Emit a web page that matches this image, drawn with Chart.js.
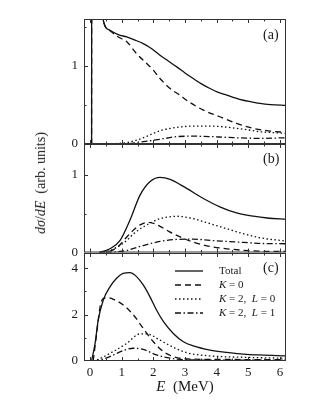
<!DOCTYPE html>
<html>
<head>
<meta charset="utf-8">
<script src="https://cdn.jsdelivr.net/npm/chart.js@4.4.1/dist/chart.umd.min.js"></script>
<style>
  body { margin: 0; background: #fff; }
  #wrap { position: relative; width: 316px; height: 409px; font-family: "Liberation Serif", "DejaVu Serif", serif; color: #1a1a1a; }
  .panel { position: absolute; left: 0; width: 316px; }
  .lbl { position: absolute; font-size: 14px; line-height: 14px; white-space: nowrap; transform: translate(0, -50%); }
  #legend { position: absolute; left: 175px; top: 264px; font-size: 11px; }
  #legend div { height: 13.9px; line-height: 13.9px; white-space: nowrap; }
  #legend svg { vertical-align: middle; margin-right: 16px; }
</style>
</head>
<body>
<div id="wrap">
  <div class="panel" style="top:0;height:152px"><canvas id="chartA"></canvas></div>
  <div class="panel" style="top:138px;height:122px"><canvas id="chartB"></canvas></div>
  <div class="panel" style="top:247px;height:162px"><canvas id="chartC"></canvas></div>

  <div class="lbl" style="left:263px;top:35px">(a)</div>
  <div class="lbl" style="left:263px;top:159px">(b)</div>
  <div class="lbl" style="left:263px;top:268px">(c)</div>

  <div class="lbl" style="left:41px;top:183px;transform:translate(-50%,-50%) rotate(-90deg)"><i>d&sigma;</i>/<i>dE</i>&nbsp; (arb. units)</div>
  <div class="lbl" style="left:185px;top:386px;font-size:15px;line-height:15px;transform:translate(-50%,-50%)"><i>E</i>&nbsp; (MeV)</div>

  <div id="legend">
    <div><svg width="28" height="4"><line x1="0" y1="2" x2="28" y2="2" stroke="#111" stroke-width="1.3"/></svg>Total</div>
    <div><svg width="28" height="4"><line x1="0" y1="2" x2="28" y2="2" stroke="#111" stroke-width="1.3" stroke-dasharray="6 4"/></svg><i>K</i> = 0</div>
    <div><svg width="28" height="4"><line x1="0" y1="2" x2="28" y2="2" stroke="#111" stroke-width="1.3" stroke-dasharray="1.5 2.5"/></svg><i>K</i> = 2,&nbsp; <i>L</i> = 0</div>
    <div><svg width="28" height="4"><line x1="0" y1="2" x2="28" y2="2" stroke="#111" stroke-width="1.3" stroke-dasharray="6 2.5 1.5 2.5"/></svg><i>K</i> = 2,&nbsp; <i>L</i> = 1</div>
  </div>
</div>

<script>
// Panel (a)
const aTotalE = [0.05, 0.055, 0.3, 0.41, 0.63, 0.89, 1.16, 1.42, 1.68, 1.95, 2.21, 2.48, 2.74, 3.0, 3.26, 3.52, 3.79, 4.05, 4.32, 4.58, 4.84, 5.1, 5.37, 5.7, 6.2];
const aTotalY = [0, 5, 2.2, 1.6, 1.455, 1.40, 1.37, 1.33, 1.285, 1.22, 1.136, 1.06, 0.987, 0.91, 0.838, 0.77, 0.71, 0.66, 0.626, 0.59, 0.56, 0.54, 0.52, 0.505, 0.494];
const aK0E = [0.05, 0.055, 0.3, 0.41, 0.63, 0.89, 1.16, 1.47, 1.79, 2.0, 2.21, 2.53, 2.84, 3.05, 3.58, 4.1, 4.63, 5.16, 5.68, 6.2];
const aK0Y = [0, 5, 2.2, 1.6, 1.45, 1.37, 1.31, 1.157, 1.03, 0.945, 0.838, 0.71, 0.626, 0.56, 0.434, 0.349, 0.264, 0.2, 0.166, 0.148];
const aK2L0E = [0.05, 1.0, 1.3, 1.47, 1.75, 2.0, 2.25, 2.53, 2.9, 3.26, 3.79, 4.2, 4.63, 5.0, 5.37, 5.8, 6.2];
const aK2L0Y = [0, 0.01, 0.03, 0.05, 0.09, 0.136, 0.175, 0.2, 0.22, 0.23, 0.23, 0.22, 0.2, 0.18, 0.157, 0.145, 0.136];
const aK2L1E = [0.05, 1.2, 1.68, 2.21, 2.74, 3.26, 3.8, 4.32, 5.37, 6.2];
const aK2L1Y = [0, 0.005, 0.03, 0.06, 0.094, 0.1, 0.095, 0.085, 0.072, 0.08];

// Panel (b)
const bTotalE = [0.3, 0.63, 0.95, 1.26, 1.58, 1.89, 2.21, 2.53, 3.05, 3.58, 4.1, 4.63, 5.16, 5.6, 6.2];
const bTotalY = [0, 0.048, 0.156, 0.416, 0.74, 0.913, 0.97, 0.944, 0.827, 0.697, 0.589, 0.51, 0.468, 0.445, 0.43];
const bK0E = [0.3, 0.63, 0.9, 1.16, 1.4, 1.6, 1.85, 2.05, 2.21, 2.5, 2.74, 3.26, 3.79, 4.32, 5.37, 6.2];
const bK0Y = [0, 0.017, 0.08, 0.2, 0.3, 0.36, 0.39, 0.37, 0.338, 0.27, 0.22, 0.134, 0.078, 0.048, 0.017, 0.013];
const bK2L0E = [0.3, 0.63, 0.9, 1.16, 1.4, 1.68, 1.95, 2.21, 2.5, 2.74, 3.0, 3.26, 3.79, 4.32, 4.84, 5.37, 6.2];
const bK2L0Y = [0, 0.026, 0.08, 0.156, 0.25, 0.33, 0.39, 0.437, 0.46, 0.468, 0.458, 0.437, 0.372, 0.307, 0.242, 0.19, 0.147];
const bK2L1E = [0.5, 0.9, 1.16, 1.68, 2.21, 2.74, 3.26, 3.79, 4.32, 4.84, 5.37, 6.2];
const bK2L1Y = [0, 0.01, 0.026, 0.09, 0.143, 0.169, 0.173, 0.156, 0.143, 0.13, 0.117, 0.113];

// Panel (c)
const cTotalE = [0.05, 0.16, 0.26, 0.42, 0.63, 0.84, 1.05, 1.26, 1.47, 1.68, 1.89, 2.1, 2.32, 2.63, 2.95, 3.26, 3.79, 4.32, 4.84, 5.37, 6.2];
const cTotalY = [0, 0.76, 1.77, 2.63, 3.2, 3.57, 3.78, 3.81, 3.64, 3.28, 2.78, 2.2, 1.7, 1.19, 0.83, 0.65, 0.47, 0.37, 0.3, 0.26, 0.22];
const cK0E = [0.1, 0.21, 0.32, 0.42, 0.58, 0.79, 1.05, 1.37, 1.68, 2.0, 2.32, 2.63, 2.95, 3.79, 6.2];
const cK0Y = [0, 1.19, 2.35, 2.7, 2.73, 2.63, 2.42, 1.99, 1.41, 0.83, 0.4, 0.19, 0.1, 0.07, 0.06];
const cK2L0E = [0.1, 0.21, 0.63, 1.16, 1.58, 1.79, 2.21, 2.63, 3.05, 3.79, 4.84, 6.2];
const cK2L0Y = [0, 0.04, 0.33, 0.76, 1.17, 1.17, 0.9, 0.59, 0.36, 0.22, 0.16, 0.12];
const cK2L1E = [0.1, 0.21, 0.63, 1.05, 1.37, 1.68, 2.1, 2.53, 2.95, 3.79, 6.2];
const cK2L1Y = [0, 0.01, 0.19, 0.45, 0.55, 0.5, 0.26, 0.12, 0.06, 0.04, 0.04];

// Ticks (value, label); empty label = minor tick
const xTicks = [0, 0.5, 1, 1.5, 2, 2.5, 3, 3.5, 4, 4.5, 5, 5.5, 6];
const xTickLabels = ['0', '', '1', '', '2', '', '3', '', '4', '', '5', '', '6'];
const aYTicks = [0, 0.5, 1, 1.5];
const aYLabels = ['0', '', '1', ''];
const bYTicks = [0, 0.5, 1];
const bYLabels = ['0', '', '1'];
const cYTicks = [0, 1, 2, 3, 4];
const cYLabels = ['0', '', '2', '', '4'];

const pts = (xs, ys) => xs.map((x, i) => ({ x: x, y: ys[i] }));

// Ticks pointing into the frame, plus a closed box
const frameTicks = {
    id: 'frameTicks',
    afterDraw(chart) {
        const { ctx, chartArea: a, scales } = chart;
        const x = scales.x, y = scales.y;
        ctx.save();
        ctx.strokeStyle = '#333';
        ctx.lineWidth = 1;
        ctx.strokeRect(a.left + 0.5, a.top + 0.5, a.right - a.left - 1, a.bottom - a.top - 1);
        ctx.beginPath();
        x.ticks.forEach((t, i) => {
            const len = xTickLabels[i] !== '' ? 4 : 2.5;
            const px = Math.round(x.getPixelForValue(t.value)) + 0.5;
            ctx.moveTo(px, a.top); ctx.lineTo(px, a.top + len);
            ctx.moveTo(px, a.bottom); ctx.lineTo(px, a.bottom - len);
        });
        y.ticks.forEach(t => {
            if (t.value <= y.min || t.value >= y.max) return;
            const len = t.label !== '' ? 4 : 2.5;
            const py = Math.round(y.getPixelForValue(t.value)) + 0.5;
            ctx.moveTo(a.left, py); ctx.lineTo(a.left + len, py);
        });
        ctx.stroke();
        ctx.restore();
    }
};

function makeChart(id, series, yMax, yTicks, yLabels, padTop, xHeight, showX) {
    const dashes = [[], [6, 4], [1.5, 2.5], [6, 2.5, 1.5, 2.5]];
    return new Chart(document.getElementById(id), {
        type: 'line',
        data: {
            datasets: series.map((s, i) => ({
                data: s,
                borderColor: '#111',
                borderWidth: 1.3,
                borderDash: dashes[i],
                pointRadius: 0,
                fill: false,
                cubicInterpolationMode: 'monotone'
            }))
        },
        options: {
            responsive: true,
            maintainAspectRatio: false,
            animation: false,
            layout: { padding: { top: padTop, right: 30, left: 0, bottom: 0 } },
            plugins: { legend: { display: false }, tooltip: { enabled: false } },
            scales: {
                x: {
                    type: 'linear',
                    min: -0.19,
                    max: 6.19,
                    grid: { display: false, drawTicks: false },
                    border: { display: false },
                    ticks: {
                        display: showX,
                        autoSkip: false,
                        maxRotation: 0,
                        padding: 4,
                        color: '#1a1a1a',
                        font: { family: 'Liberation Serif', size: 13 },
                        callback: (v, i) => xTickLabels[i]
                    },
                    afterBuildTicks: s => { s.ticks = xTicks.map(v => ({ value: v })); },
                    afterFit: s => {
                        s.height = xHeight;
                        s.paddingLeft = 0; s.paddingRight = 0;
                    }
                },
                y: {
                    min: 0,
                    max: yMax,
                    grid: { display: false, drawTicks: false },
                    border: { display: false },
                    ticks: {
                        autoSkip: false,
                        padding: 6,
                        color: '#1a1a1a',
                        font: { family: 'Liberation Serif', size: 13 },
                        callback: (v, i) => yLabels[i]
                    },
                    afterBuildTicks: s => { s.ticks = yTicks.map(v => ({ value: v })); },
                    afterFit: s => {
                        s.width = 84;
                        s.paddingTop = 0; s.paddingBottom = 0;
                    }
                }
            }
        },
        plugins: [frameTicks]
    });
}

makeChart('chartA',
    [pts(aTotalE, aTotalY), pts(aK0E, aK0Y), pts(aK2L0E, aK2L0Y), pts(aK2L1E, aK2L1Y)],
    1.6, aYTicks, aYLabels, 19, 8, false);
makeChart('chartB',
    [pts(bTotalE, bTotalY), pts(bK0E, bK0Y), pts(bK2L0E, bK2L0Y), pts(bK2L1E, bK2L1Y)],
    1.4, bYTicks, bYLabels, 6, 7.5, false);
makeChart('chartC',
    [pts(cTotalE, cTotalY), pts(cK0E, cK0Y), pts(cK2L0E, cK2L0Y), pts(cK2L1E, cK2L1Y)],
    4.66, cYTicks, cYLabels, 6, 48, true);
</script>
</body>
</html>
